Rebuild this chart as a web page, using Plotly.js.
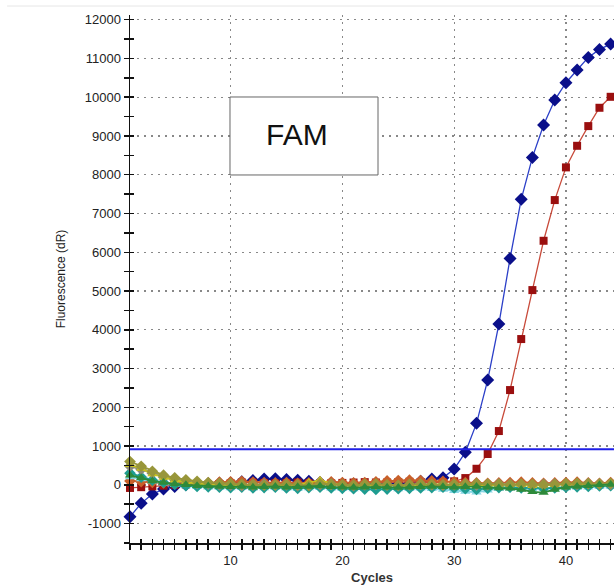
<!DOCTYPE html>
<html>
<head>
<meta charset="utf-8">
<script src="https://cdn.plot.ly/plotly-3.0.1.min.js"></script>
<style>html,body{margin:0;padding:0;background:#fff;}#chart{width:614px;height:586px;}</style>
</head>
<body>
<div id="chart"></div>
<script>
const cycles = [1,2,3,4,5,6,7,8,9,10,11,12,13,14,15,16,17,18,19,20,21,22,23,24,25,26,27,28,29,30,31,32,33,34,35,36,37,38,39,40,41,42,43,44];
const sampleA = [-823,-477,-237,-110,-40,0,20,30,40,50,80,110,150,160,140,120,90,60,40,30,20,10,20,30,20,40,90,150,183,408,838,1586,2703,4147,5842,7364,8447,9280,9925,10372,10700,11026,11233,11370];
const sampleB = [-80,-60,-40,-20,0,10,10,0,20,40,60,60,50,40,50,60,40,30,40,50,60,70,60,60,70,80,70,60,70,90,175,415,795,1388,2445,3761,5024,6296,7346,8189,8746,9254,9727,10010];
const ntcOlive = [600,480,350,250,180,130,90,60,40,30,10,0,-10,0,10,0,-20,30,10,0,-10,10,20,0,-10,10,20,10,0,10,20,30,20,10,0,20,10,0,10,30,40,30,20,40];
const ntcGray = [480,400,300,200,130,80,40,20,0,-10,-20,0,10,-10,0,-20,-10,0,20,-10,-20,0,10,-10,-20,0,10,0,-10,0,10,-10,0,20,10,0,-10,10,20,0,10,30,20,10];
const ntcYellow = [520,420,280,190,120,70,30,10,-10,-30,-20,-40,-30,-20,-10,0,60,120,40,-10,-30,-20,0,10,-20,-30,-10,0,20,-10,-30,-20,0,-10,10,0,-20,-10,0,20,10,0,30,20];
const ntcGreen = [250,180,100,60,20,0,-20,-30,-40,-50,-40,-60,-50,-40,-60,-50,-40,-30,-50,-60,-70,-60,-50,-60,-70,-60,-50,-40,-50,-60,-50,-40,-60,-80,-90,-120,-180,-200,-120,-60,-40,-20,0,10];
const ntcTeal = [300,200,120,60,10,-20,-40,-50,-60,-70,-60,-80,-70,-60,-80,-90,-70,-60,-80,-90,-100,-110,-120,-110,-100,-90,-80,-70,-60,-80,-100,-120,-90,-70,-60,-80,-70,-90,-80,-60,-50,-40,-30,-20];
const ntcCyan = [200,150,90,40,0,-30,-50,-60,-70,-80,-70,-90,-80,-70,-90,-100,-80,-70,-90,-100,-110,-100,-90,-100,-110,-100,-90,-100,-120,-150,-170,-190,-140,-100,-90,-100,-110,-100,-90,-80,-70,-60,-50,-40];
const ntcOrange = [100,80,60,50,40,50,60,50,70,80,90,70,60,50,60,40,50,70,80,60,50,60,80,100,110,120,110,100,90,80,60,50,40,50,60,70,50,40,50,60,70,50,40,60];
const threshold = 920;
const yTickVals = [-1000,0,1000,2000,3000,4000,5000,6000,7000,8000,9000,10000,11000,12000];
const xTickVals = [10,20,30,40];
const boxLabel = "FAM";

const xr = [1, 44.3];
const yr = [-1500, 12120];

function bg(y, color, symbol) {
  return {x: cycles, y: y, type: 'scatter', mode: 'lines+markers', cliponaxis: false,
    line: {color: color, width: 1.8}, marker: {color: color, symbol: symbol, size: 9}, showlegend: false, hoverinfo: 'skip'};
}

const traces = [
  {x: cycles, y: sampleA, type: 'scatter', mode: 'lines+markers', cliponaxis: false,
   line: {color: '#2b3fc8', width: 1.3}, marker: {color: '#0a0f8a', symbol: 'diamond', size: 10}, showlegend: false},
  {x: cycles, y: sampleB, type: 'scatter', mode: 'lines+markers', cliponaxis: false,
   line: {color: '#c84a3a', width: 1.3}, marker: {color: '#9a0f0f', symbol: 'square', size: 8}, showlegend: false},
  bg(ntcOrange, '#c8602a', 'diamond'),
  bg(ntcCyan, '#86d6e4', 'triangle-up'),
  bg(ntcTeal, '#1e9c90', 'diamond'),
  bg(ntcGray, '#8a8a78', 'diamond'),
  bg(ntcYellow, '#c8c21e', 'triangle-up'),
  bg(ntcOlive, '#98963a', 'diamond'),
  bg(ntcGreen, '#2e8a3a', 'triangle-up'),
  {x: [], y: [], xaxis: 'x2', yaxis: 'y2', type: 'scatter', showlegend: false}
];

const tickFont = {family: 'Liberation Sans, Arial, sans-serif', size: 13, color: '#222'};

const layout = {
  width: 614, height: 586,
  margin: {l: 130, r: 0, t: 15, b: 43},
  paper_bgcolor: '#fff', plot_bgcolor: '#fff',
  showlegend: false,
  xaxis: {
    range: xr, showline: true, linecolor: '#111', linewidth: 1.5,
    ticks: 'outside', ticklen: 5, tickcolor: '#111', tickwidth: 1.5,
    tickvals: xTickVals, ticktext: xTickVals.map(String), tickfont: tickFont,
    showgrid: true, gridcolor: '#888', griddash: '2px,5px', gridwidth: 1.3,
    minor: {dtick: 1, tick0: 0, ticks: 'outside', ticklen: 5, tickcolor: '#111', tickwidth: 1.5, showgrid: false},
    zeroline: false,
    title: {text: '<b>Cycles</b>', font: {family: 'Liberation Sans, Arial, sans-serif', size: 13, color: '#333'}, standoff: 6}
  },
  yaxis: {
    range: yr, showline: true, linecolor: '#111', linewidth: 1.5,
    ticks: 'outside', ticklen: 5, tickcolor: '#111', tickwidth: 1.5,
    tickvals: yTickVals, ticktext: yTickVals.map(String), tickfont: tickFont,
    showgrid: true, gridcolor: '#888', griddash: '2px,5px', gridwidth: 1.3,
    minor: {dtick: 500, tick0: 0, ticks: 'outside', ticklen: 5, tickcolor: '#111', tickwidth: 1.5, showgrid: false},
    zeroline: false,
    title: {text: 'Fluorescence (dR)', font: {family: 'Liberation Sans, Arial, sans-serif', size: 12, color: '#222'}, standoff: 16}
  },
  xaxis2: {overlaying: 'x', anchor: 'y2', range: xr, showline: false, showgrid: false, zeroline: false,
    ticks: 'inside', ticklen: 4, tickcolor: '#111', tickwidth: 1.5, tickvals: xTickVals, showticklabels: false,
    minor: {dtick: 1, tick0: 0, ticks: 'inside', ticklen: 4, tickcolor: '#111', tickwidth: 1.5}},
  yaxis2: {overlaying: 'y', anchor: 'x2', range: yr, showline: false, showgrid: false, zeroline: false,
    ticks: 'inside', ticklen: 4, tickcolor: '#111', tickwidth: 1.5, tickvals: yTickVals, showticklabels: false,
    minor: {dtick: 500, tick0: 0, ticks: 'inside', ticklen: 4, tickcolor: '#111', tickwidth: 1.5}},
  shapes: [
    {type: 'line', xref: 'paper', yref: 'y', x0: 0, x1: 1, y0: threshold, y1: threshold,
     line: {color: '#1f1fe8', width: 2}},
    {type: 'rect', xref: 'paper', yref: 'paper', x0: 0.2066, x1: 0.5124, y0: 0.697, y1: 0.8447,
     line: {color: '#666', width: 1}, fillcolor: '#fff'},
    {type: 'line', xref: 'paper', yref: 'paper', x0: -0.254, x1: 1, y0: 1.017, y1: 1.017,
     line: {color: '#e6e6e6', width: 1}}
  ],
  annotations: [
    {xref: 'paper', yref: 'paper', x: 0.345, y: 0.7745, text: boxLabel, showarrow: false,
     xanchor: 'center', yanchor: 'middle', font: {family: 'Liberation Sans, Arial, sans-serif', size: 30, color: '#111'}}
  ]
};

Plotly.newPlot('chart', traces, layout, {staticPlot: true, displayModeBar: false});
</script>
</body>
</html>
